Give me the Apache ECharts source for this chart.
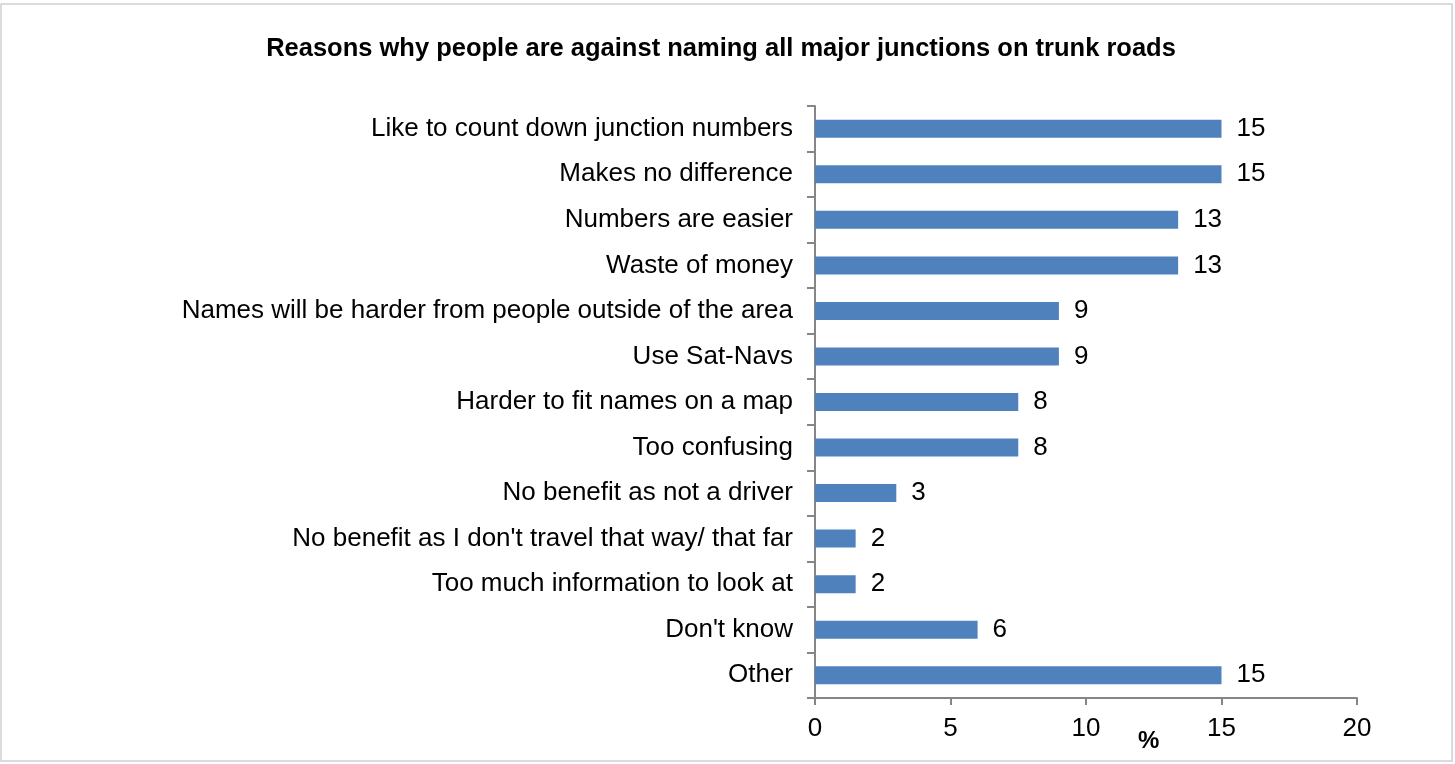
<!DOCTYPE html>
<html>
<head>
<meta charset="utf-8">
<script src="https://cdn.jsdelivr.net/npm/echarts@6/dist/echarts.min.js"></script>
<style>
html,body{margin:0;padding:0;background:#fff;}
#chart{width:1455px;height:764px;}
</style>
</head>
<body>
<div id="chart"></div>
<script>
const titleText = "Reasons why people are against naming all major junctions on trunk roads";
const categories = [
  "Like to count down junction numbers",
  "Makes no difference",
  "Numbers are easier",
  "Waste of money",
  "Names will be harder from people outside of the area",
  "Use Sat-Navs",
  "Harder to fit names on a map",
  "Too confusing",
  "No benefit as not a driver",
  "No benefit as I don't travel that way/ that far",
  "Too much information to look at",
  "Don't know",
  "Other"
];
const values = [15, 15, 13.4, 13.4, 9, 9, 7.5, 7.5, 3, 1.5, 1.5, 6, 15];
const valueLabels = ["15", "15", "13", "13", "9", "9", "8", "8", "3", "2", "2", "6", "15"];
const xTicks = [0, 5, 10, 15, 20];
const axisName = "%";

const font = "'Liberation Sans', Arial, sans-serif";
const chart = echarts.init(document.getElementById('chart'));
chart.setOption({
  animation: false,
  backgroundColor: '#fff',
  title: {
    text: titleText,
    left: 716, top: 31, textAlign: 'center',
    textStyle: {fontFamily: font, fontSize: 25.5, fontWeight: 'bold', color: '#000'}
  },
  grid: {left: 815, right: 98, top: 106, bottom: 66, containLabel: false},
  xAxis: {
    type: 'value',
    min: xTicks[0], max: xTicks[xTicks.length - 1], interval: 5,
    axisLine: {show: true, lineStyle: {color: '#868686', width: 2}},
    axisTick: {show: true, length: 7, lineStyle: {color: '#868686', width: 2}},
    splitLine: {show: false},
    axisLabel: {fontFamily: font, fontSize: 26, color: '#000', margin: 18}
  },
  yAxis: {
    type: 'category',
    inverse: true,
    data: categories,
    axisLine: {show: true, lineStyle: {color: '#868686', width: 2}},
    axisTick: {show: true, length: 8, inside: false, alignWithLabel: false, lineStyle: {color: '#868686', width: 2}},
    axisLabel: {fontFamily: font, fontSize: 26, color: '#000', margin: 22}
  },
  series: [{
    type: 'bar',
    data: values,
    barWidth: 18,
    itemStyle: {color: '#4F81BD'},
    label: {
      show: true, position: 'right', distance: 15,
      fontFamily: font, fontSize: 26, color: '#000',
      formatter: p => valueLabels[p.dataIndex]
    }
  }],
  graphic: [
    {type: 'rect', shape: {x: 1, y: 4, width: 1451, height: 757},
     style: {fill: 'none', stroke: '#d0d0d0', lineWidth: 1.5}, silent: true},
    {type: 'text', left: 1138, top: 729,
     style: {text: axisName, fontFamily: font, fontSize: 24, fontWeight: 'bold', fill: '#000'}}
  ]
});
</script>
</body>
</html>
